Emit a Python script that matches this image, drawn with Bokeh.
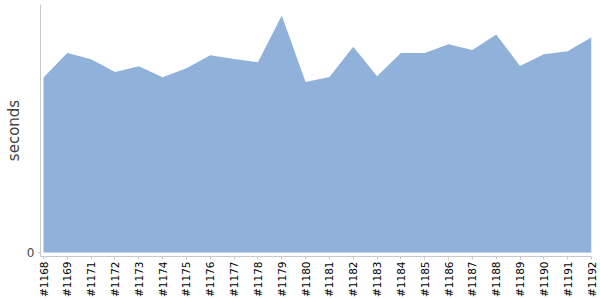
import math
from bokeh.plotting import figure
from bokeh.models import Range1d, FixedTicker
from bokeh.embed import file_html
from bokeh.resources import INLINE

builds = ["#1168", "#1169", "#1171", "#1172", "#1173", "#1174", "#1175", "#1176",
          "#1177", "#1178", "#1179", "#1180", "#1181", "#1182", "#1183", "#1184",
          "#1185", "#1186", "#1187", "#1188", "#1189", "#1190", "#1191", "#1192"]
seconds = [175.7, 200.3, 194.0, 181.3, 187.0, 176.0, 185.0, 198.0,
           194.3, 191.0, 238.0, 171.3, 176.3, 206.7, 177.0, 200.3,
           200.3, 209.0, 203.3, 219.0, 187.3, 199.0, 202.0, 216.0]

xs = list(range(len(builds)))

p = figure(width=600, height=300, output_backend="svg", toolbar_location=None,
           x_range=Range1d(-0.126, len(builds) - 1),
           y_range=Range1d(-4, 249),
           min_border_left=40, min_border_right=9, min_border_top=4, min_border_bottom=43)
p.outline_line_color = None
p.grid.visible = False

p.varea(x=xs, y1=[0] * len(xs), y2=seconds, fill_color="#8fb1da", fill_alpha=1.0)

p.xaxis.ticker = FixedTicker(ticks=xs)
p.xaxis.major_label_overrides = {i: b for i, b in enumerate(builds)}
p.xaxis.major_label_orientation = math.pi / 2
p.xaxis.major_label_text_font = "DejaVu Sans"
p.xaxis.major_label_text_font_size = "10.5px"
p.xaxis.major_label_text_color = "#000000"
p.xaxis.major_label_standoff = 2
p.xaxis.minor_tick_line_color = None
p.xaxis.major_tick_in = 0
p.xaxis.major_tick_out = 3
p.xaxis.axis_line_color = "#c8c8c8"
p.xaxis.major_tick_line_color = "#c8c8c8"

p.yaxis.ticker = FixedTicker(ticks=[0])
p.yaxis.major_label_text_font = "DejaVu Sans"
p.yaxis.major_label_text_font_size = "12px"
p.yaxis.major_label_text_color = "#444444"
p.yaxis.major_label_standoff = 3
p.yaxis.minor_tick_line_color = None
p.yaxis.major_tick_in = 0
p.yaxis.major_tick_out = 3
p.yaxis.axis_line_color = "#c8c8c8"
p.yaxis.major_tick_line_color = "#c8c8c8"
p.yaxis.axis_label = "seconds"
p.yaxis.axis_label_text_font = "DejaVu Sans"
p.yaxis.axis_label_text_font_size = "15px"
p.yaxis.axis_label_text_font_style = "normal"
p.yaxis.axis_label_text_color = "#444444"
p.yaxis.axis_label_standoff = 1

open("out.html", "w").write(file_html(p, INLINE))
